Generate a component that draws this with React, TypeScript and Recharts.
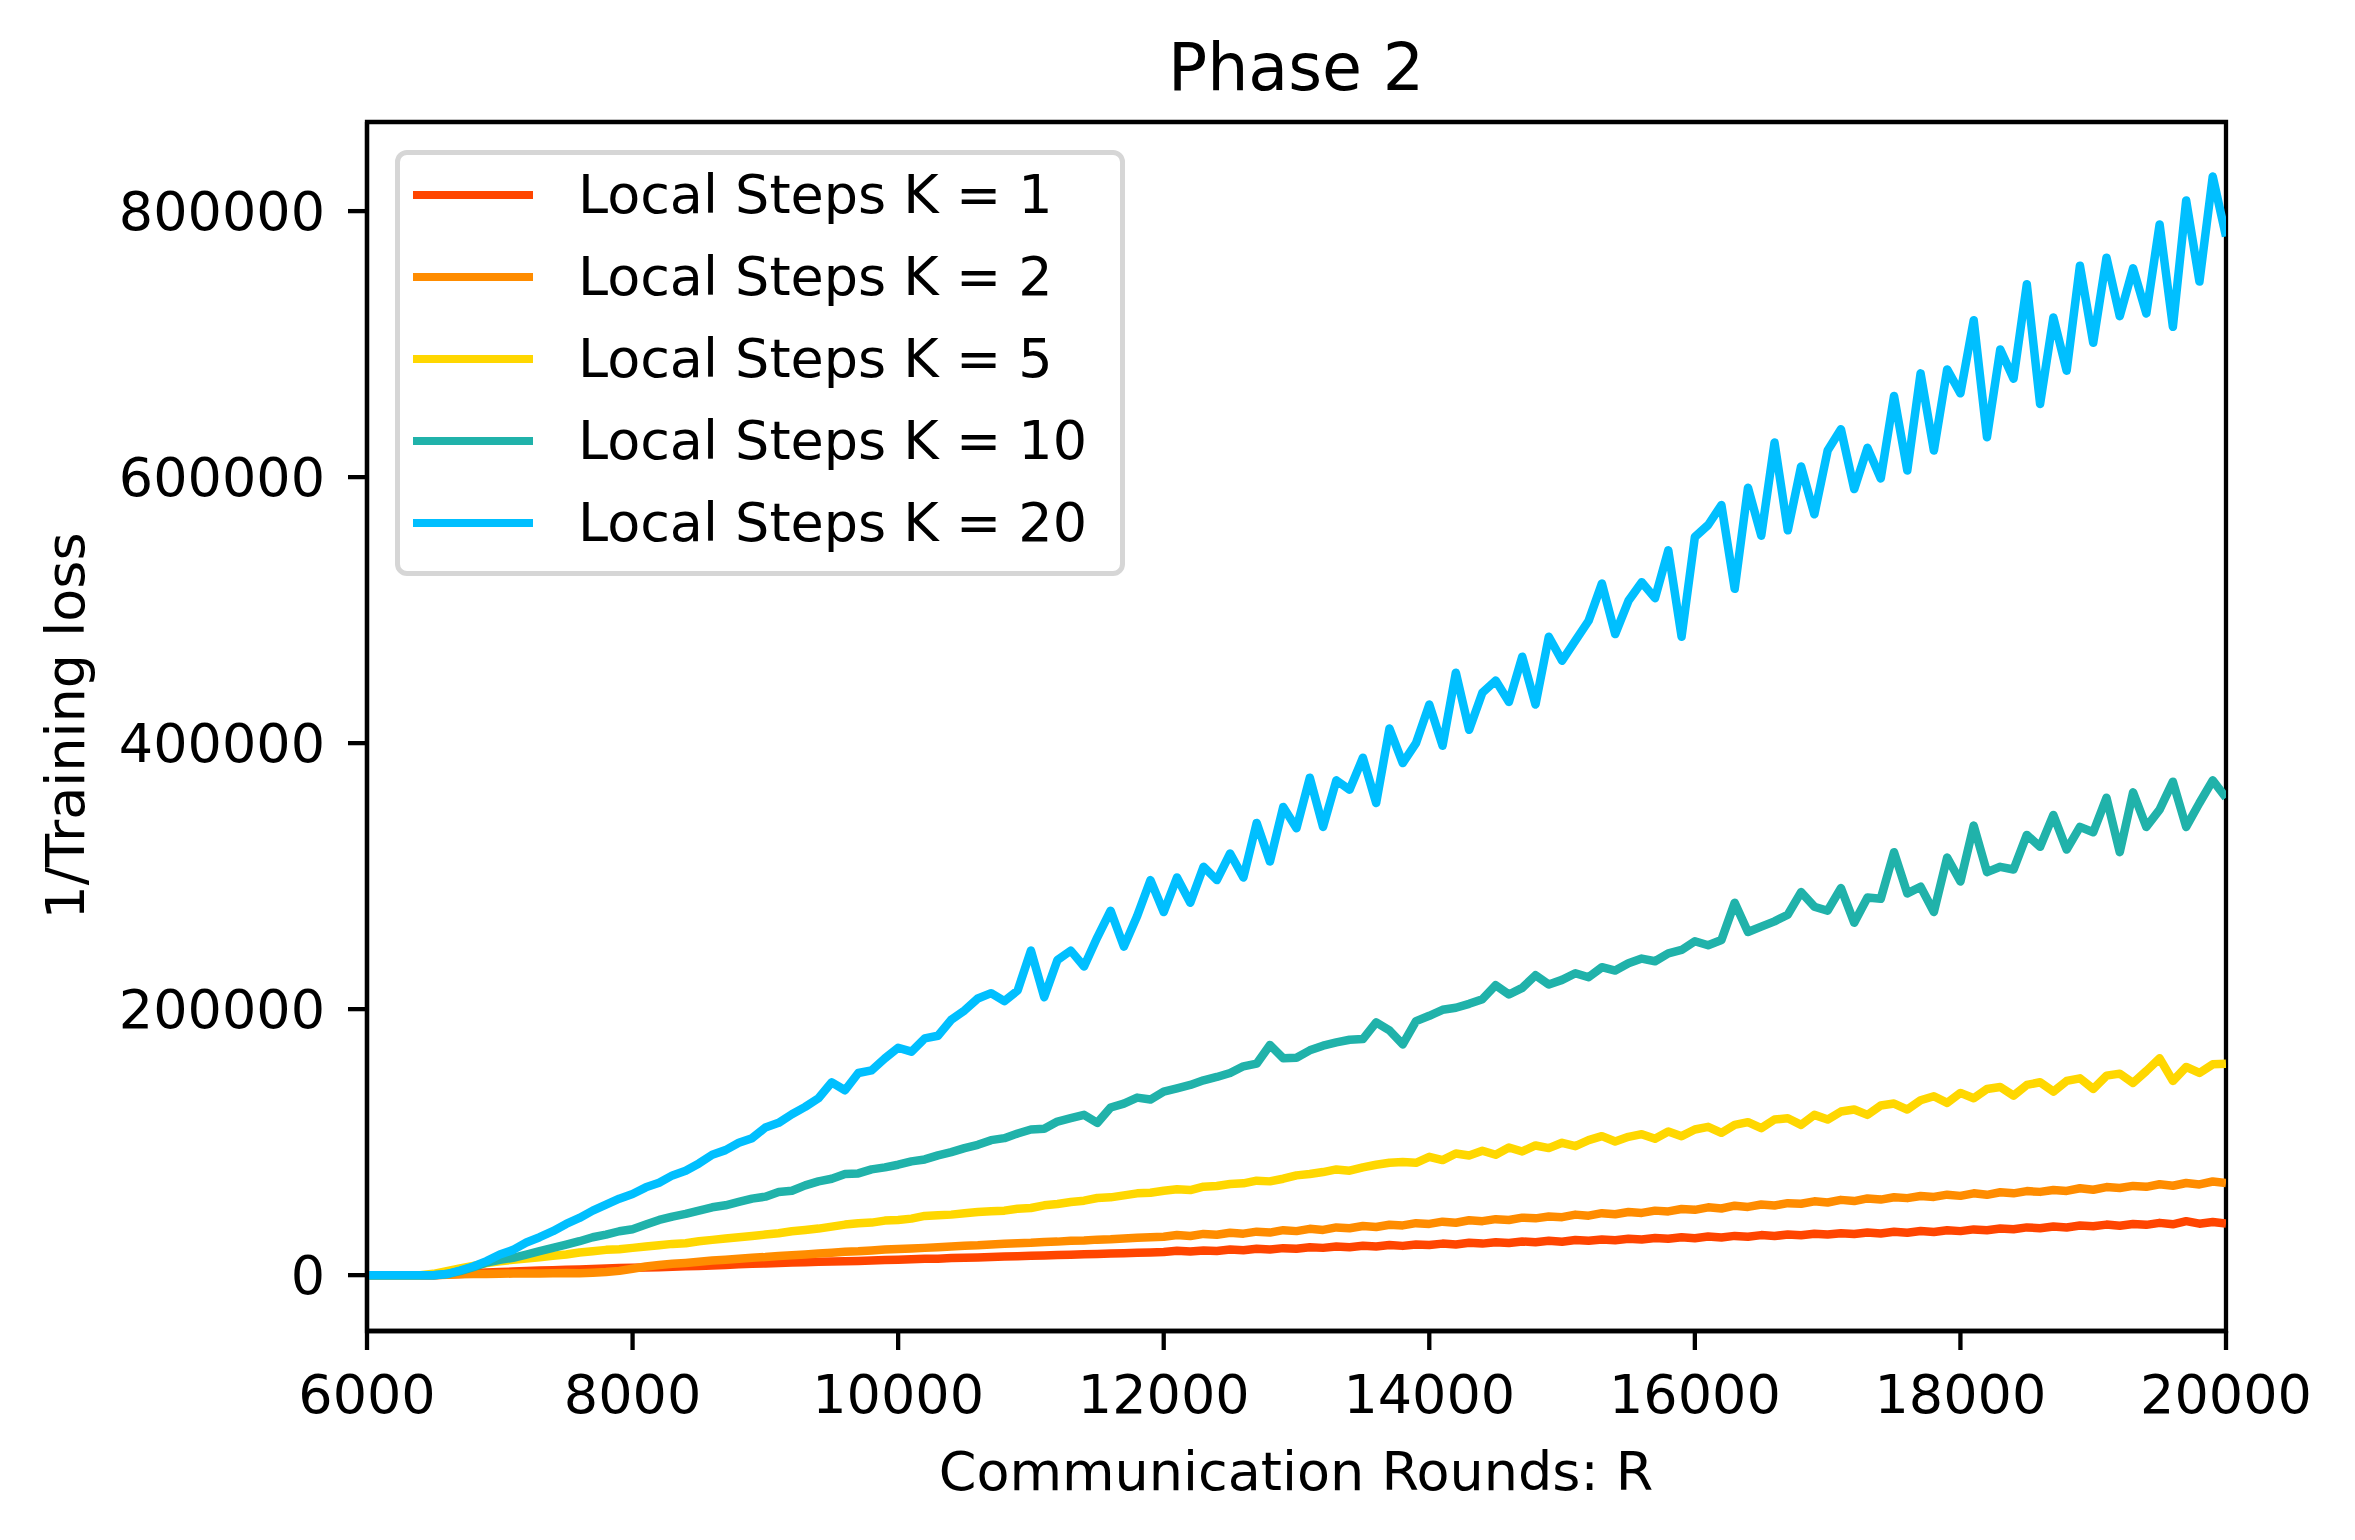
import { Legend, Line, LineChart, ReferenceArea, XAxis, YAxis } from "recharts";

const FONT = "'DejaVu Sans', sans-serif";

// communication rounds, sampled every 100
const rounds = Array.from({ length: 141 }, (_, i) => 6000 + i * 100);

const xTicks = [6000, 8000, 10000, 12000, 14000, 16000, 18000, 20000];
const yTicks = [0, 200000, 400000, 600000, 800000];

const k1 = [
  0, 0, 0, 0, 0, 0, 400, 900, 1400, 1900,
  2300, 2700, 3100, 3400, 3700, 4000, 4300, 4700, 5000, 5300,
  5500, 5800, 6000, 6300, 6600, 6900, 7300, 7700, 8100, 8500,
  8800, 9200, 9500, 9700, 10000, 10200, 10400, 10700, 11000, 11300,
  11500, 11900, 12300, 12400, 12800, 13100, 13300, 13700, 14000, 14200,
  14500, 14800, 15100, 15400, 15700, 15900, 16200, 16500, 16900, 17100,
  17400, 18300, 17700, 18600, 18200, 19300, 18700, 19800, 19300, 20300,
  19900, 20900, 20500, 21500, 21000, 22100, 21500, 22600, 22000, 23100,
  22600, 23700, 23100, 24300, 23700, 24800, 24100, 25300, 24700, 25800,
  25100, 26400, 25800, 26800, 26300, 27400, 26800, 27900, 27300, 28500,
  27800, 29000, 28300, 29500, 28900, 30100, 29400, 30600, 30000, 31100,
  30500, 31500, 30900, 32100, 31300, 32600, 31900, 33200, 32500, 33800,
  33100, 34400, 33800, 35100, 34500, 35900, 35300, 36600, 35800, 37300,
  36700, 38000, 37200, 38500, 37800, 39300, 38200, 40600, 38700, 39900,
  38900,
];

const k2 = [
  0, 0, 0, 0, 0, 0, 300, 600, 800, 900,
  1000, 1200, 1300, 1200, 1400, 1600, 1500, 1800, 2300, 3200,
  4800, 6500, 7600, 8500, 9200, 10100, 11000, 11600, 12400, 13100,
  13600, 14400, 15000, 15600, 16300, 16900, 17500, 17900, 18600, 19200,
  19600, 20100, 20500, 21000, 21500, 22100, 22400, 23000, 23600, 24000,
  24300, 24900, 25200, 25800, 26100, 26700, 27000, 27600, 28100, 28500,
  28900, 30200, 29400, 31000, 30400, 31900, 31200, 32700, 32000, 33800,
  33100, 34800, 34000, 35900, 35300, 36900, 36200, 37900, 37400, 39100,
  38500, 40200, 39400, 41300, 40600, 42100, 41500, 43200, 42700, 44100,
  43600, 45500, 44700, 46600, 45800, 47500, 46800, 48500, 47900, 49700,
  49100, 51000, 50100, 52200, 51300, 53100, 52400, 54100, 53700, 55500,
  54600, 56600, 55700, 57700, 56800, 58600, 57900, 59500, 58800, 60500,
  59600, 61500, 60400, 62300, 61500, 63200, 62600, 64000, 63300, 65300,
  64200, 66200, 65500, 67100, 66400, 68300, 67200, 69300, 68200, 70400,
  69200,
];

const k5 = [
  0, 0, 0, 0, 0, 1000, 3000, 5000, 7000, 9000,
  10500, 11500, 12500, 13500, 14500, 15500, 17000, 18000, 19000, 19500,
  20500, 21500, 22500, 23500, 24000, 25500, 26500, 27500, 28500, 29500,
  30500, 31500, 33000, 34000, 35000, 36500, 38000, 39000, 39500, 41000,
  41500, 42500, 44500, 45000, 45500, 46500, 47500, 48000, 48500, 50000,
  50500, 52500, 53500, 55000, 56000, 58000, 58500, 60000, 61500, 62000,
  63500, 64500, 64000, 66500, 67000, 68500, 69000, 71000, 70500, 72500,
  75000, 76000, 77500, 79500, 78500, 81000, 83000, 84500, 85000, 84500,
  89000, 86500, 91500, 90000, 93500, 90500, 96000, 93000, 97500, 95500,
  99500, 97000, 101500, 104500, 100500, 104000, 106000, 102500, 108000, 104500,
  109500, 111500, 107000, 113000, 115000, 110500, 117000, 118000, 113000, 120500,
  117000, 123000, 124500, 120500, 127500, 129000, 124500, 131500, 134500, 129500,
  137000, 133000, 140000, 141500, 135000, 143000, 145000, 138000, 146000, 148000,
  140000, 150000, 151500, 144500, 153500, 163000, 146000, 156500, 152000, 158500,
  159000,
];

const k10 = [
  0, 0, 0, 0, 0, 0, 800, 3000, 6000, 9500,
  11500, 13000, 15500, 18000, 20500, 23000, 25500, 28500, 30500, 33000,
  34500, 38000, 41500, 44000, 46000, 48500, 51000, 52500, 55000, 57500,
  59000, 62500, 63500, 67500, 70500, 72500, 76000, 76500, 79500, 81000,
  83000, 85500, 87000, 90000, 92500, 95500, 98000, 101500, 103000, 106500,
  109500, 110000, 115500, 118000, 120500, 114500, 126000, 129000, 133500, 132000,
  138000, 140500, 143000, 146500, 149000, 152000, 157000, 159000, 173000, 163000,
  163500, 169000, 172500, 175000, 177000, 177500, 190000, 184000, 173500, 191000,
  195000, 199500, 201000, 204000, 207500, 218000, 211000, 216000, 225500, 218500,
  222000, 227000, 224000, 231500, 229000, 234500, 238000, 236000, 242000, 244500,
  251000, 248000, 252000, 280000, 258000, 262000, 266000, 271000, 288000, 277000,
  274000, 291000, 265000, 284000, 283000, 318000, 287000, 292000, 273000, 314000,
  296000, 338000, 303000, 307000, 305000, 331000, 322000, 346000, 320000, 337000,
  333000, 359000, 318000, 363000, 337000, 350000, 371000, 337000, 355000, 372000,
  359000,
];

const k20 = [
  0, 0, 0, 0, 0, 0, 800, 3500, 6500, 10500,
  15500, 19000, 24500, 28500, 33000, 38500, 43000, 48500, 53000, 57500,
  61000, 66000, 69500, 75000, 78500, 84000, 90500, 94000, 99500, 103000,
  111000, 114500, 121000, 126500, 133000, 145000, 139000, 152000, 154000, 163000,
  171000, 168000, 178000, 180000, 192000, 199000, 208000, 212000, 206000, 214000,
  244000, 209000, 237000, 244000, 232000, 254000, 274000, 247000, 270000, 297000,
  273000, 299000, 280000, 307000, 297000, 317000, 299000, 340000, 311000, 352000,
  336000, 374000, 337000, 372000, 365000, 389000, 355000, 411000, 385000, 400000,
  429000, 398000, 453000, 410000, 438000, 447000, 431000, 465000, 429000, 480000,
  462000, 477000, 492000, 520000, 482000, 507000, 521000, 509000, 545000, 480000,
  555000, 564000, 579000, 516000, 592000, 556000, 626000, 560000, 608000, 572000,
  620000, 636000, 591000, 622000, 599000, 661000, 605000, 678000, 620000, 681000,
  663000, 718000, 630000, 696000, 674000, 745000, 655000, 720000, 680000, 759000,
  701000, 765000, 721000, 757000, 723000, 790000, 713000, 808000, 747000, 826000,
  781000,
];

const series = [
  { key: "k1", name: "Local Steps K = 1", color: "#ff4500" },
  { key: "k2", name: "Local Steps K = 2", color: "#ff8c00" },
  { key: "k5", name: "Local Steps K = 5", color: "#ffd700" },
  { key: "k10", name: "Local Steps K = 10", color: "#20b2aa" },
  { key: "k20", name: "Local Steps K = 20", color: "#00bfff" },
];

const data = rounds.map((r, i) => ({ r, k1: k1[i], k2: k2[i], k5: k5[i], k10: k10[i], k20: k20[i] }));

function LegendBox() {
  return (
    <div
      style={{
        position: "relative",
        width: 730,
        height: 426,
        boxSizing: "border-box",
        border: "5px solid #d6d6d6",
        borderRadius: 12,
        background: "rgba(255,255,255,0.8)",
        fontFamily: FONT,
      }}
    >
      {series.map((s, i) => (
        <div
          key={s.key}
          style={{ position: "absolute", left: 13, top: 40 - 41 + i * 82, height: 82, display: "flex", alignItems: "center" }}
        >
          <span style={{ display: "inline-block", width: 120, height: 8, background: s.color }} />
          <span style={{ marginLeft: 45, fontSize: 54, lineHeight: 1, color: "#000", whiteSpace: "nowrap" }}>{s.name}</span>
        </div>
      ))}
    </div>
  );
}

export default function App() {
  const tickStyle = { fontSize: 54, fill: "#000", fontFamily: FONT };
  const axisStroke = { stroke: "#000", strokeWidth: 4.3 };
  return (
    <div style={{ width: 2355, height: 1540, background: "#fff" }}>
      <style>{"body{margin:0}"}</style>
      <LineChart
        width={2355}
        height={1540}
        data={data}
        margin={{ top: 122, right: 129, bottom: 0, left: 0 }}
        style={{ fontFamily: FONT }}
      >
        <XAxis
          dataKey="r"
          type="number"
          domain={[6000, 20000]}
          ticks={xTicks}
          interval={0}
          allowDataOverflow
          height={209}
          tickSize={19}
          tickMargin={25}
          tick={tickStyle}
          axisLine={axisStroke}
          tickLine={axisStroke}
        />
        <YAxis
          type="number"
          domain={[-42000, 867000]}
          ticks={yTicks}
          interval={0}
          allowDataOverflow
          width={367}
          tickSize={19}
          tickMargin={23}
          tick={tickStyle}
          axisLine={axisStroke}
          tickLine={axisStroke}
        />
        {series.map((s) => (
          <Line
            key={s.key}
            type="linear"
            dataKey={s.key}
            name={s.name}
            stroke={s.color}
            strokeWidth={8.5}
            strokeLinejoin="round"
            dot={false}
            activeDot={false}
            isAnimationActive={false}
          />
        ))}
        <ReferenceArea x1={6000} x2={20000} y1={-42000} y2={867000} fill="none" stroke="#000" strokeWidth={4.3} />
        <Legend
          layout="vertical"
          verticalAlign="middle"
          align="center"
          wrapperStyle={{ left: 395, top: 150, width: 730, height: 426 }}
          content={() => <LegendBox />}
        />
        <text x={1296} y={90} textAnchor="middle" fontSize={65} fontFamily={FONT} fill="#000">
          Phase 2
        </text>
        <text x={1296} y={1490} textAnchor="middle" fontSize={54} fontFamily={FONT} fill="#000">
          Communication Rounds: R
        </text>
        <text x={84} y={726} transform="rotate(-90 84 726)" textAnchor="middle" fontSize={54} fontFamily={FONT} fill="#000">
          1/Training loss
        </text>
      </LineChart>
    </div>
  );
}
